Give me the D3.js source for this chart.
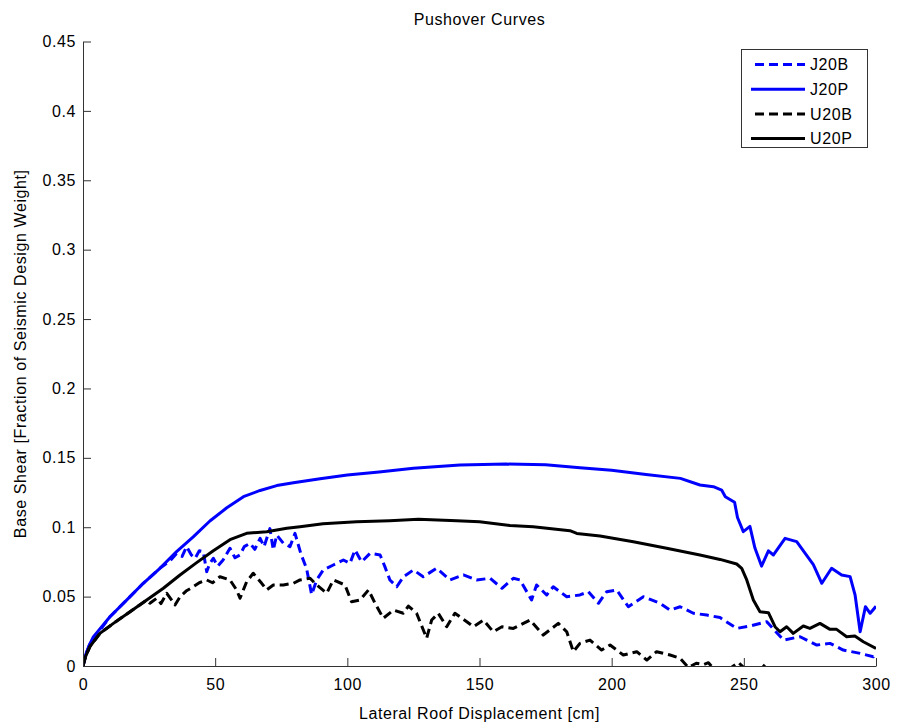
<!DOCTYPE html>
<html>
<head>
<meta charset="utf-8">
<script src="https://cdn.jsdelivr.net/npm/d3@7"></script>
<style>
    body { margin: 0; background: #fff; }
    text { font-family: "Liberation Sans", Arial, sans-serif; font-size: 16px; letter-spacing: 0.6px; fill: #000; }
</style>
</head>
<body>
<div id="chart"></div>
<script>
// pushover curves: [displacement cm, base shear fraction]
const J20B = [[0,0],[1,0.008],[2.6,0.016],[10.2,0.0355],[16.5,0.0475],[22.8,0.0596],[29.1,0.0704],[33,0.076],[35.4,0.081],[37.5,0.079],[39.2,0.086],[41,0.08],[42.4,0.0776],[44,0.083],[45.5,0.0824],[46.8,0.068],[48,0.074],[49.3,0.0776],[51,0.072],[53,0.0764],[55.6,0.0848],[57.5,0.078],[59.4,0.08],[61,0.086],[63.2,0.0884],[65,0.084],[67,0.092],[68.5,0.086],[70.7,0.099],[72,0.0836],[73.3,0.0944],[75.8,0.0884],[78.3,0.086],[80.2,0.0956],[82.4,0.081],[84.6,0.07],[86.5,0.0515],[88.4,0.062],[90.9,0.0692],[94.7,0.0728],[98.5,0.0764],[101,0.074],[102.9,0.0836],[105.4,0.0751],[108.6,0.0812],[112.4,0.08],[114.2,0.0716],[116.1,0.062],[118.7,0.0571],[121.2,0.0643],[125,0.0692],[128.7,0.0643],[133.8,0.0704],[138.8,0.062],[143.9,0.0656],[148.9,0.062],[154,0.0632],[158.5,0.056],[162.8,0.0632],[165.3,0.062],[169.7,0.0476],[171.6,0.0584],[175.4,0.0512],[177.9,0.0571],[183,0.0499],[188,0.0512],[191.2,0.0535],[195,0.0452],[198.1,0.0535],[201.9,0.0548],[206.3,0.0427],[212,0.0499],[218.3,0.0452],[222.1,0.0403],[225.9,0.0427],[230.9,0.038],[236,0.0367],[241,0.0349],[247.3,0.0271],[252.3,0.0288],[258.7,0.0319],[265,0.0187],[271.3,0.0211],[277.6,0.0151],[282.6,0.0163],[287.6,0.0115],[294,0.0091],[299,0.0067],[300,0.009]];

const J20P = [[0,0],[1,0.008],[2.6,0.016],[3.9,0.021],[10.2,0.0355],[16.5,0.0475],[22.8,0.0596],[29.1,0.0704],[35.4,0.0824],[41.7,0.093],[48,0.1045],[54.4,0.114],[60.7,0.122],[67,0.1265],[73.3,0.13],[79.6,0.132],[89.7,0.135],[100,0.1376],[112,0.1398],[125,0.1425],[142.6,0.1448],[160,0.1455],[175,0.145],[188,0.1428],[200,0.141],[213,0.138],[226,0.1352],[233.4,0.1304],[238.5,0.1292],[241.6,0.1268],[243,0.122],[246.5,0.118],[247.6,0.107],[249.8,0.0968],[252.3,0.1006],[254.2,0.085],[256.7,0.072],[259.3,0.083],[261.2,0.08],[265.6,0.092],[270,0.0896],[276.3,0.073],[279.5,0.0596],[283.2,0.0704],[287,0.0656],[290.2,0.0644],[292.1,0.051],[294,0.0247],[296,0.0427],[297.8,0.038],[300,0.043]];

const U20B = [[0,0],[1,0.007],[2.6,0.0139],[6.4,0.0235],[11.5,0.0307],[17.8,0.0391],[24.1,0.0475],[25.3,0.0452],[27.9,0.0488],[29.5,0.045],[31.7,0.0524],[34.8,0.044],[36.7,0.0499],[39,0.054],[41.7,0.0571],[44,0.06],[46.8,0.062],[49,0.06],[51.8,0.0643],[55.6,0.062],[58.1,0.0548],[59.4,0.0488],[61.9,0.0607],[64.4,0.0668],[67.6,0.0596],[69.5,0.0548],[72,0.0584],[75.8,0.0584],[79.6,0.0596],[82.1,0.062],[85.9,0.0632],[88.4,0.0584],[92.2,0.0524],[94.7,0.062],[99.1,0.0584],[101.6,0.0463],[104.8,0.0476],[108,0.0548],[110.5,0.0452],[113.6,0.0344],[117.4,0.0403],[121.2,0.038],[123.1,0.0432],[126.2,0.038],[130,0.02],[131.9,0.0331],[134.4,0.038],[137.6,0.0283],[140.7,0.038],[145.2,0.0319],[147.7,0.0283],[151.5,0.0331],[155.2,0.0247],[158.5,0.0283],[162.8,0.0271],[169.1,0.0331],[174.1,0.0223],[179.8,0.0307],[183,0.0247],[185.5,0.0103],[188,0.0163],[191.8,0.0187],[196.2,0.0115],[199.4,0.0151],[204.4,0.0079],[209.5,0.0103],[213.3,0.0043],[217,0.0103],[222.1,0.0079],[225.9,0.0055],[229,-0.001],[232,0.002],[234.7,0.001],[236.6,0.0024],[239,-0.003],[243,-0.004],[248,0.0025],[251,-0.003],[255,-0.002],[257,0.001],[260,-0.004],[264,-0.008],[270,-0.012],[285,-0.015],[300,-0.02]];

const U20P = [[0,0],[1,0.007],[2.6,0.0139],[6.4,0.0235],[11.5,0.0307],[17.8,0.0391],[24.1,0.0475],[30.4,0.056],[36.7,0.0656],[43,0.0745],[49.3,0.083],[55.6,0.091],[61.9,0.0956],[69.5,0.0968],[77.1,0.0992],[82.1,0.1004],[90.8,0.1025],[103.5,0.104],[116,0.1047],[126.9,0.1057],[141.4,0.1047],[150,0.104],[161.5,0.1012],[170.3,0.1004],[184.2,0.0975],[186.8,0.0955],[195.6,0.0937],[208.2,0.0896],[220.8,0.0848],[233.4,0.08],[241,0.0768],[247.3,0.0735],[249.2,0.0704],[251.1,0.062],[253.6,0.0476],[256.1,0.0391],[259.3,0.0384],[261.8,0.0283],[263.7,0.0247],[266.2,0.0283],[268.7,0.0235],[272.5,0.0288],[275,0.0271],[278.8,0.0307],[282.6,0.0264],[285.1,0.0264],[288.9,0.0211],[292,0.0216],[295.2,0.0175],[300,0.0127]];

const seriesNames = ['J20B', 'J20P', 'U20B', 'U20P'];
const seriesData = [J20B, J20P, U20B, U20P];
const seriesColors = ['#0000ff', '#0000ff', '#000000', '#000000'];
const seriesDashed = [true, false, true, false];

const xTicks = [0, 50, 100, 150, 200, 250, 300];
const yTicks = [0, 0.05, 0.1, 0.15, 0.2, 0.25, 0.3, 0.35, 0.4, 0.45];
const yTickLabels = ['0', '0.05', '0.1', '0.15', '0.2', '0.25', '0.3', '0.35', '0.4', '0.45'];

const width = 897;
const height = 727;
const margin = { top: 41.5, right: 21, bottom: 61, left: 83 };

const svg = d3.select('#chart')
    .append('svg')
    .attr('width', width)
    .attr('height', height);

const x = d3.scaleLinear()
    .domain([0, 300])
    .range([margin.left, width - margin.right]);

const y = d3.scaleLinear()
    .domain([0, 0.45])
    .range([height - margin.bottom, margin.top]);

svg.append('clipPath')
    .attr('id', 'plotClip')
    .append('rect')
    .attr('x', margin.left)
    .attr('y', margin.top)
    .attr('width', x(300) - margin.left)
    .attr('height', y(0) - margin.top);

const line = d3.line()
    .x(d => x(d[0]))
    .y(d => y(d[1]));

svg.append('g')
    .attr('clip-path', 'url(#plotClip)')
    .selectAll('path')
    .data(seriesData)
    .join('path')
    .attr('d', line)
    .attr('fill', 'none')
    .attr('stroke', (d, i) => seriesColors[i])
    .attr('stroke-width', 3)
    .attr('stroke-linejoin', 'round')
    .attr('stroke-dasharray', (d, i) => seriesDashed[i] ? '9,5' : null);

function xAxis(g) {
    g.attr('transform', `translate(0,${y(0)})`)
        .call(d3.axisBottom(x).tickValues(xTicks).tickSizeInner(-8).tickSizeOuter(0).tickPadding(13))
        .attr('font-size', null)
        .attr('font-family', null);
}

function yAxis(g) {
    g.attr('transform', `translate(${margin.left},0)`)
        .call(d3.axisLeft(y).tickValues(yTicks).tickFormat((d, i) => yTickLabels[i])
            .tickSizeInner(-8).tickSizeOuter(0).tickPadding(7))
        .attr('font-size', null)
        .attr('font-family', null);
}

svg.append('g').call(xAxis);
svg.append('g').call(yAxis);
svg.selectAll('.domain, .tick line').attr('stroke', '#333');

svg.append('text')
    .attr('x', (x(0) + x(300)) / 2)
    .attr('y', 25)
    .attr('text-anchor', 'middle')
    .text('Pushover Curves');

svg.append('text')
    .attr('x', (x(0) + x(300)) / 2)
    .attr('y', 719)
    .attr('text-anchor', 'middle')
    .text('Lateral Roof Displacement [cm]');

svg.append('text')
    .attr('transform', `translate(26,${(y(0) + y(0.45)) / 2}) rotate(-90)`)
    .attr('text-anchor', 'middle')
    .text('Base Shear [Fraction of Seismic Design Weight]');

// legend
const legend = svg.append('g');
legend.append('rect')
    .attr('x', 741.5)
    .attr('y', 49.5)
    .attr('width', 126)
    .attr('height', 98)
    .attr('fill', '#fff')
    .attr('stroke', '#333');

const items = legend.selectAll('g.item')
    .data(seriesNames)
    .join('g')
    .attr('class', 'item')
    .attr('transform', (d, i) => `translate(0,${64.5 + i * 24.7})`);

items.append('line')
    .attr('x1', (d, i) => seriesDashed[i] ? 755 : 751)
    .attr('x2', 805)
    .attr('stroke', (d, i) => seriesColors[i])
    .attr('stroke-width', 3)
    .attr('stroke-dasharray', (d, i) => seriesDashed[i] ? '9,5' : null);

items.append('text')
    .attr('x', 810)
    .attr('dy', '0.36em')
    .text(d => d);
</script>
</body>
</html>
